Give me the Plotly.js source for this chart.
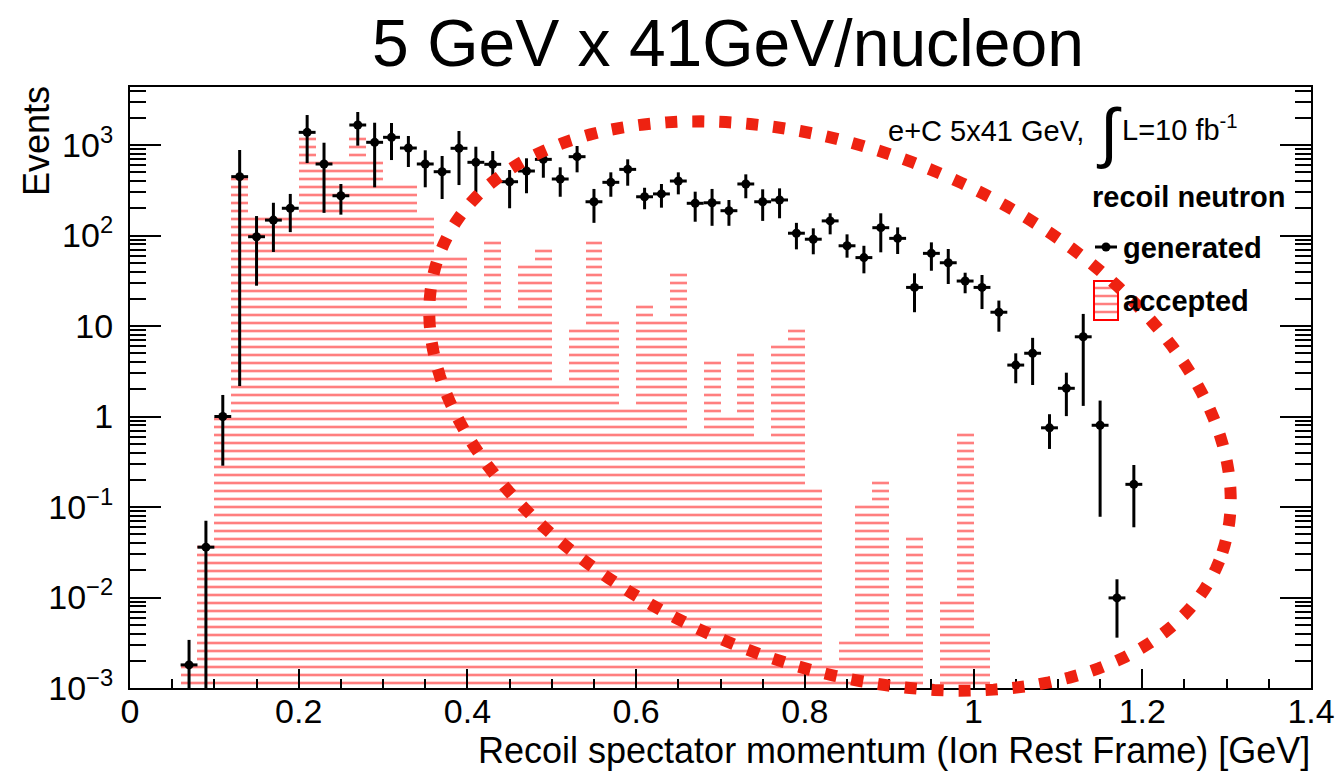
<!DOCTYPE html>
<html>
<head>
<meta charset="utf-8">
<script src="https://cdn.plot.ly/plotly-3.0.1.min.js"></script>
<style>html,body{margin:0;padding:0;background:#fff}#chart{width:1338px;height:771px}</style>
</head>
<body>
<div id="chart"></div>
<script>
// ---- data ----
const genMomentum = [0.07,0.09,0.11,0.13,0.15,0.17,0.19,0.21,0.23,0.25,0.27,0.29,0.31,0.33,0.35,0.37,0.39,0.41,0.43,0.45,0.47,0.49,0.51,0.53,0.55,0.57,0.59,0.61,0.63,0.65,0.67,0.69,0.71,0.73,0.75,0.77,0.79,0.81,0.83,0.85,0.87,0.89,0.91,0.93,0.95,0.97,0.99,1.01,1.03,1.05,1.07,1.09,1.11,1.13,1.15,1.17,1.19];
const genEvents = [0.0018,0.036,1.0,447,97,148,200,1380,617,275,1664,1071,1216,926,617,507,920,644,612,393,516,694,421,743,236,387,538,268,288,400,227,230,188,371,236,247,106,91,145,77,57,122,93,26.7,63.5,50,31.4,26.7,14.2,3.7,5.0,0.75,2.05,7.6,0.80,0.0099,0.178];
const genUpper = [0.0034,0.0706,1.73,881,164,230,288,2144,1060,371,2317,1763,1750,1257,874,756,1428,958,858,529,713,920,567,975,327,499,695,337,371,499,305,327,247,474,324,332,138,120,176,103,77,176,123,38.2,84,71,38.8,36.6,19.1,4.99,7.4,1.06,3.05,13.6,1.50,0.0159,0.291];
const genLower = [1e-5,1e-5,0.286,2.17,27.9,65.8,109,632,178,170,983,341,682,571,341,253,361,297,447,200,293,435,268,499,138,268,355,195,203,285,142,128,128,258,145,155,70.3,62,103,56.9,38.2,65.2,62.5,14.2,40.8,29.1,23,15.4,8.65,2.33,2.23,0.438,1.01,1.31,0.078,0.0036,0.0597];
const binHalfWidth = 0.01;

const accMomentum = [0.07,0.09,0.11,0.13,0.15,0.17,0.19,0.21,0.23,0.25,0.27,0.29,0.31,0.33,0.35,0.37,0.39,0.41,0.43,0.45,0.47,0.49,0.51,0.53,0.55,0.57,0.59,0.61,0.63,0.65,0.67,0.69,0.71,0.73,0.75,0.77,0.79,0.81,0.83,0.85,0.87,0.89,0.91,0.93,0.95,0.97,0.99,1.01];
const accEvents = [0.0019,0.040,1.1,430,170,172,175,1350,710,710,1350,710,400,400,177,64.6,64.6,15.3,94.6,15.3,51,78,2.47,10.3,94.6,12.7,1.34,18.9,12.7,43,0.72,4.47,1.07,5.52,0.58,6.7,10.3,0.175,0.002,0.0037,0.115,0.214,0.0037,0.051,null,0.0101,0.71,0.0045];

const yTickVals = [0.001,0.01,0.1,1,10,100,1000];
const yTickText = ['10<sup>\u22123</sup>','10<sup>\u22122</sup>','10<sup>\u22121</sup>','1','10','10<sup>2</sup>','10<sup>3</sup>'];

const titleText = '5 GeV x 41GeV/nucleon';
const xTitle = 'Recoil spectator momentum (Ion Rest Frame) [GeV]';
const yTitle = 'Events';

// ---- layout geometry (pixels) ----
const W = 1338, H = 771;
const M = {l:130, r:27, t:87, b:83};
const PW = W - M.l - M.r, PH = H - M.t - M.b;
const px2x = p => (p - M.l) / PW;
const py2y = p => (H - M.b - p) / PH;

const FONT = 'Liberation Sans, Arial, Helvetica, sans-serif';
const RED_HATCH = 'rgba(255,0,0,0.5)';

// ---- traces ----
const accepted = {
  type:'bar', x:accMomentum, y:accEvents, width:2*binHalfWidth,
  marker:{color:RED_HATCH, line:{width:0},
    pattern:{shape:'-', size:8, solidity:0.33, fgcolor:RED_HATCH, bgcolor:'rgba(255,255,255,0)', fillmode:'replace'}},
  hoverinfo:'skip'
};
const generated = {
  type:'scatter', mode:'markers', x:genMomentum, y:genEvents,
  marker:{color:'black', size:9, symbol:'circle'},
  error_y:{type:'data', symmetric:false,
    array:genUpper.map((u,i)=>u-genEvents[i]),
    arrayminus:genLower.map((l,i)=>genEvents[i]-l),
    thickness:3, width:0, color:'black'},
  error_x:{type:'constant', value:binHalfWidth, thickness:3, width:0, color:'black'},
  cliponaxis:true
};

// ---- dashed ellipse annotation ----
const ell = {cx:830, cy:406, a:419, b:257, rotDeg:21.7, n:200};
let ellPath = '';
{
  const r = ell.rotDeg*Math.PI/180;
  for (let i=0;i<=ell.n;i++){
    const t = 2*Math.PI*i/ell.n;
    const X = ell.cx + ell.a*Math.cos(t)*Math.cos(r) - ell.b*Math.sin(t)*Math.sin(r);
    const Y = ell.cy + ell.a*Math.cos(t)*Math.sin(r) + ell.b*Math.sin(t)*Math.cos(r);
    ellPath += (i? 'L':'M') + px2x(X).toFixed(5) + ',' + py2y(Y).toFixed(5);
  }
  ellPath += 'Z';
}

const shapes = [];
// legend: generated symbol
shapes.push({type:'line', xref:'paper', yref:'paper', x0:px2x(1095), x1:px2x(1117), y0:py2y(247), y1:py2y(247), line:{color:'black', width:3}});
shapes.push({type:'circle', xref:'paper', yref:'paper', x0:px2x(1101.5), x1:px2x(1110.5), y0:py2y(242.5), y1:py2y(251.5), fillcolor:'black', line:{width:0}});
// legend: accepted symbol (hatched box)
[288,296,304,312].forEach(yy=>{
  shapes.push({type:'line', xref:'paper', yref:'paper', x0:px2x(1095), x1:px2x(1117), y0:py2y(yy), y1:py2y(yy), line:{color:RED_HATCH, width:2.5}});
});
shapes.push({type:'rect', xref:'paper', yref:'paper', x0:px2x(1094), x1:px2x(1118), y0:py2y(281), y1:py2y(320), line:{color:'red', width:2}, fillcolor:'rgba(0,0,0,0)'});
// ellipse
shapes.push({type:'path', xref:'paper', yref:'paper', path:ellPath, line:{color:'#ee2211', width:12, dash:'12px,15px'}, layer:'above'});

const ann = (text, xp, yp, opts) => Object.assign({text, xref:'paper', yref:'paper', x:px2x(xp), y:py2y(yp), showarrow:false, xanchor:'left', yanchor:'middle', font:{family:FONT, size:29, color:'black'}}, opts||{});

const annotations = [
  ann(xTitle, 1311, 750, {xanchor:'right', borderpad:0, font:{family:FONT, size:36, color:'black'}}),
  ann(yTitle, 36, 141, {xanchor:'center', textangle:-90, font:{family:FONT, size:36, color:'black'}}),
  ann('e+C 5x41 GeV,', 886, 131),
  ann('\u222B', 1109, 132, {xanchor:'center', font:{family:FONT, size:66, color:'black'}}),
  ann('L=10 fb<sup>-1</sup>', 1120, 128),
  ann('<b>recoil neutron</b>', 1090, 197),
  ann('<b>generated</b>', 1121, 248),
  ann('<b>accepted</b>', 1121, 301)
];

const layout = {
  width:W, height:H, margin:M,
  paper_bgcolor:'white', plot_bgcolor:'white',
  showlegend:false, bargap:0,
  font:{family:FONT, color:'black'},
  title:{text:titleText, font:{family:FONT, size:66, color:'black'}, xref:'container', yref:'container', x:728/W, xanchor:'center', y:1-43/H, yanchor:'middle'},
  xaxis:{range:[0,1.4], tick0:0, dtick:0.2, ticks:'inside', ticklen:19, tickwidth:2, tickcolor:'black',
    showline:true, linewidth:2, linecolor:'black', mirror:true, showgrid:false, zeroline:false,
    tickfont:{family:FONT, size:34, color:'black'}, ticklabelstandoff:-8,
    minor:{dtick:0.05, ticks:'inside', ticklen:9, tickwidth:2, tickcolor:'black', showgrid:false}},
  yaxis:{type:'log', range:[-3, 3.641], tickmode:'array', tickvals:yTickVals, ticktext:yTickText,
    ticks:'inside', ticklen:31, tickwidth:2, tickcolor:'black',
    showline:true, linewidth:2, linecolor:'black', mirror:'ticks', showgrid:false, zeroline:false,
    tickfont:{family:FONT, size:34, color:'black'}, ticklabelstandoff:8,
    minor:{dtick:'D1', ticks:'inside', ticklen:16, tickwidth:2, tickcolor:'black', showgrid:false}},
  shapes, annotations
};

Plotly.newPlot('chart', [accepted, generated], layout, {staticPlot:true, displayModeBar:false});
</script>
</body>
</html>
